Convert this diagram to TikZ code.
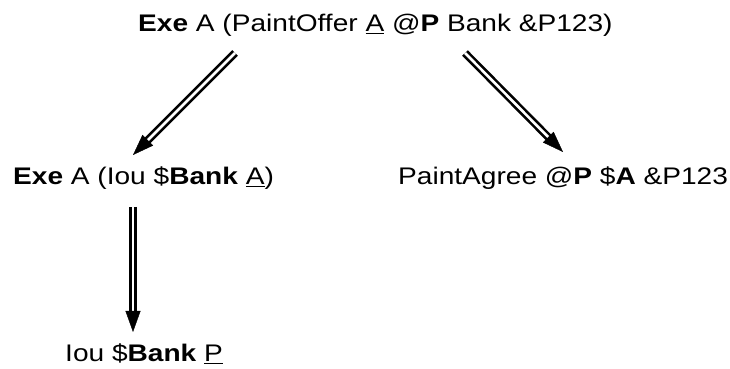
\documentclass[tikz,border=0pt]{standalone}
\usepackage{fontspec}
\setmainfont{Liberation Sans}[FakeStretch=1.17]
\usetikzlibrary{arrows.meta,calc}
\tikzset{
  lbl/.style={anchor=base west, inner sep=0pt, font=\fontsize{24}{28}\selectfont},
  shaft/.style={double, line width=2.6pt, double distance=2.6pt, shorten >=15pt, line cap=butt},
  tipA/.style={-{Triangle[length=21pt,width=15pt]}, line width=0.4pt},
}
\begin{document}
\begin{tikzpicture}[x=1pt,y=1pt]
\useasboundingbox (0,0) rectangle (730,369);
\node[lbl] (top) at (138,337) {\textbf{Exe} A (PaintOffer \underline{A} @\textbf{P} Bank \&P123)};
\node[lbl] (left) at (13,184) {\textbf{Exe} A (Iou \$\textbf{Bank} \underline{A})};
\node[lbl] (right) at (398,184) {PaintAgree @\textbf{P} \$\textbf{A} \&P123};
\node[lbl] (bottom) at (65,7) {Iou \$\textbf{Bank} \underline{P}};
\coordinate (l1) at (235,316);
\coordinate (l2) at (133,214);
\coordinate (r1) at (465,316);
\coordinate (r2) at (563,217);
\coordinate (v1) at (133,162);
\coordinate (v2) at (133,37);
\draw[shaft] (l1) -- (l2);
\draw[tipA] ($(l2)!19pt!(l1)$) -- (l2);
\draw[shaft] (r1) -- (r2);
\draw[tipA] ($(r2)!19pt!(r1)$) -- (r2);
\draw[shaft] (v1) -- (v2);
\draw[tipA] ($(v2)!19pt!(v1)$) -- (v2);
\end{tikzpicture}
\end{document}
